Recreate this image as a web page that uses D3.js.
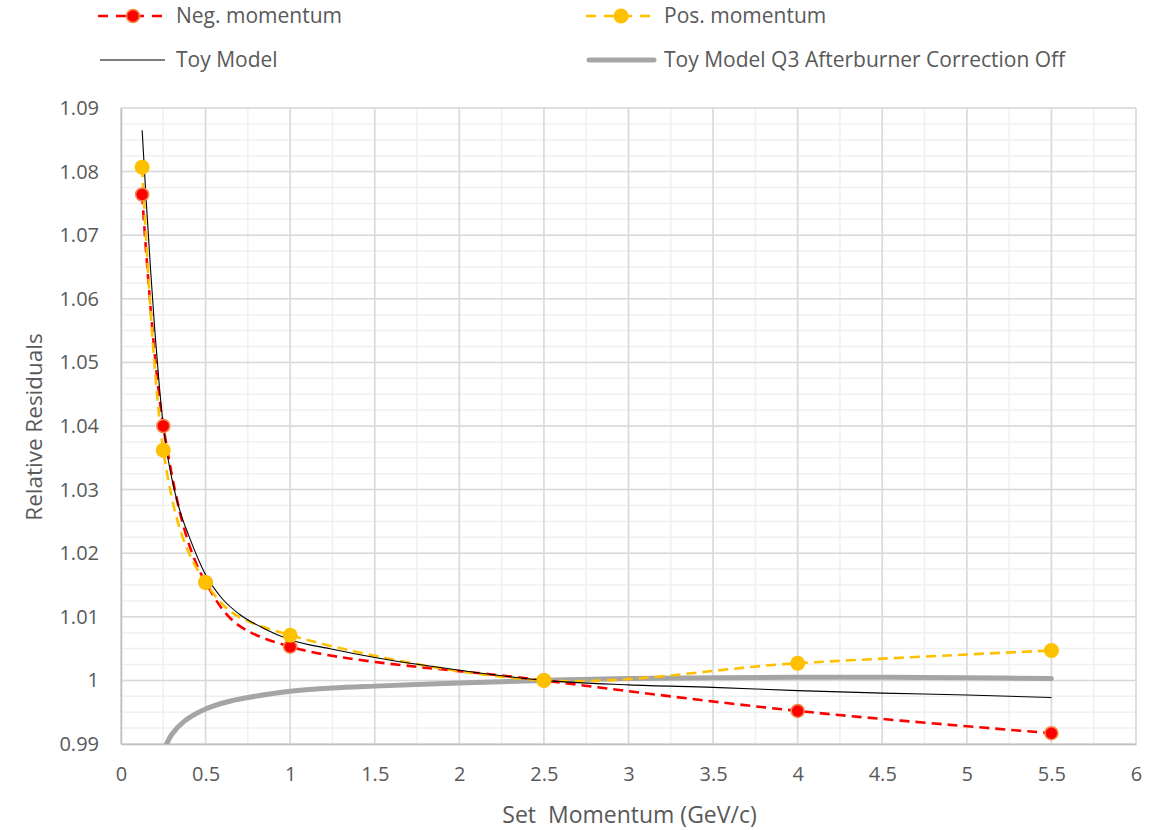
<!DOCTYPE html>
<html>
<head>
<meta charset="utf-8">
<script src="https://cdn.jsdelivr.net/npm/d3@7"></script>
<style>
  html, body { margin: 0; padding: 0; background: #ffffff; }
  svg { display: block; font-family: "Open Sans", "Liberation Sans", sans-serif; }
  text { fill: #595959; white-space: pre; }
</style>
</head>
<body>
<svg id="chart" width="1160" height="830"></svg>
<script>
// Measured momenta (GeV/c)
const momenta = [0.125, 0.25, 0.5, 1, 2.5, 4, 5.5];
// Relative residuals for each polarity
const negResiduals = [1.0764, 1.0400, 1.0154, 1.0053, 1.0000, 0.9952, 0.9917];
const posResiduals = [1.0807, 1.0362, 1.0154, 1.0071, 1.0000, 1.0027, 1.0047];

// Toy model curve
const toyX = [0.125, 0.15, 0.175, 0.2, 0.225, 0.25, 0.3, 0.35, 0.4, 0.5, 0.6, 0.7, 0.85, 1.0, 1.25, 1.5, 2.0, 2.5, 3.0, 3.5, 4.0, 4.5, 5.0, 5.5];
const toyY = [1.0865, 1.0750, 1.0645, 1.0550, 1.0468, 1.0400, 1.0318, 1.0265, 1.0228, 1.0166, 1.0128, 1.0104, 1.0081, 1.0064, 1.0049, 1.0036, 1.0016, 1.0000, 0.9993, 0.9989, 0.9984, 0.9980, 0.9977, 0.9973];

// Toy model with the Q3 afterburner correction switched off
const offX = [0.25, 0.3, 0.375, 0.5, 0.625, 0.75, 1.0, 1.25, 1.5, 2.0, 2.5, 3.0, 3.5, 4.0, 4.5, 5.0, 5.5];
const offY = [0.9888, 0.9915, 0.9936, 0.9955, 0.9966, 0.9973, 0.9983, 0.9988, 0.9991, 0.9996, 1.0000, 1.0003, 1.0004, 1.0005, 1.0005, 1.0004, 1.0003];

// Axis ticks
const xTicks = [0, 0.5, 1, 1.5, 2, 2.5, 3, 3.5, 4, 4.5, 5, 5.5, 6];
const yTicks = [0.99, 1, 1.01, 1.02, 1.03, 1.04, 1.05, 1.06, 1.07, 1.08, 1.09];
const xMinor = d3.range(0, 6.001, 0.25);
const yMinor = d3.range(0, 41).map(i => 0.99 + i * 0.0025);

const legendItems = [
  { label: "Neg. momentum", kind: "neg" },
  { label: "Pos. momentum", kind: "pos" },
  { label: "Toy Model", kind: "toy" },
  { label: "Toy Model Q3 Afterburner Correction Off", kind: "off" }
];

const svg = d3.select("#chart");
const plot = { left: 121, right: 1136, top: 108, bottom: 744 };

const x = d3.scaleLinear().domain([0, 6]).range([plot.left, plot.right]);
const y = d3.scaleLinear().domain([0.99, 1.09]).range([plot.bottom, plot.top]);

const RED = "#ff0000", YELLOW = "#ffc000", GREY = "#a5a5a5";

svg.append("defs").append("clipPath").attr("id", "plotClip")
  .append("rect")
  .attr("x", plot.left).attr("y", plot.top)
  .attr("width", plot.right - plot.left).attr("height", plot.bottom - plot.top);

// Gridlines
const grid = svg.append("g");
grid.selectAll("line.xmin").data(xMinor).join("line")
  .attr("x1", d => x(d)).attr("x2", d => x(d))
  .attr("y1", plot.top).attr("y2", plot.bottom)
  .attr("stroke", "#f0f0f0").attr("stroke-width", 1.5);
grid.selectAll("line.ymin").data(yMinor).join("line")
  .attr("y1", d => y(d)).attr("y2", d => y(d))
  .attr("x1", plot.left).attr("x2", plot.right)
  .attr("stroke", "#f0f0f0").attr("stroke-width", 1.5);
grid.selectAll("line.xmaj").data(xTicks).join("line")
  .attr("x1", d => x(d)).attr("x2", d => x(d))
  .attr("y1", plot.top).attr("y2", plot.bottom)
  .attr("stroke", "#d9d9d9").attr("stroke-width", 1.5);
grid.selectAll("line.ymaj").data(yTicks).join("line")
  .attr("y1", d => y(d)).attr("y2", d => y(d))
  .attr("x1", plot.left).attr("x2", plot.right)
  .attr("stroke", "#d9d9d9").attr("stroke-width", 1.5);

// Axes
const xAxis = d3.axisBottom(x).tickValues(xTicks).tickSize(0).tickPadding(23)
  .tickFormat(d => d3.format("")(d));
const yAxis = d3.axisLeft(y).tickValues(yTicks).tickSize(0).tickPadding(22)
  .tickFormat(d => String(+d.toFixed(2)));

const gx = svg.append("g").attr("transform", `translate(0,${plot.bottom})`).call(xAxis);
gx.select(".domain").attr("stroke", "#bfbfbf").attr("stroke-width", 1.5);
gx.selectAll("text").attr("font-size", 20).attr("fill", "#595959")
  .attr("font-family", "'Open Sans', sans-serif");

const gy = svg.append("g").attr("transform", `translate(${plot.left},0)`).call(yAxis);
gy.select(".domain").attr("stroke", "#bfbfbf").attr("stroke-width", 1.5);
gy.selectAll("text").attr("font-size", 20).attr("fill", "#595959")
  .attr("font-family", "'Open Sans', sans-serif");

// Axis titles
svg.append("text")
  .attr("x", (plot.left + plot.right) / 2 + 1).attr("y", 823)
  .attr("text-anchor", "middle").attr("font-size", 23)
  .text("Set  Momentum (GeV/c)");
svg.append("text")
  .attr("transform", `translate(42,${(plot.top + plot.bottom) / 2 + 1}) rotate(-90)`)
  .attr("text-anchor", "middle").attr("font-size", 22.5)
  .text("Relative Residuals");

// Series
const series = svg.append("g").attr("clip-path", "url(#plotClip)");
const smooth = d3.line().x(d => x(d[0])).y(d => y(d[1])).curve(d3.curveCardinal.tension(0));
const smoothModel = d3.line().x(d => x(d[0])).y(d => y(d[1])).curve(d3.curveMonotoneX);
const smoothOff = d3.line().x(d => x(d[0])).y(d => y(d[1])).curve(d3.curveCatmullRom.alpha(0.5));

const negPts = d3.zip(momenta, negResiduals);
const posPts = d3.zip(momenta, posResiduals);
const toyPts = d3.zip(toyX, toyY);
const offPts = d3.zip(offX, offY);

series.append("path").datum(offPts)
  .attr("d", smoothOff).attr("fill", "none")
  .attr("stroke", GREY).attr("stroke-width", 5).attr("stroke-linecap", "round");

series.append("path").datum(negPts)
  .attr("d", smooth).attr("fill", "none")
  .attr("stroke", RED).attr("stroke-width", 2.6).attr("stroke-dasharray", "10,6");
series.append("path").datum(posPts)
  .attr("d", smooth).attr("fill", "none")
  .attr("stroke", YELLOW).attr("stroke-width", 2.6).attr("stroke-dasharray", "10,6");

svg.append("g").selectAll("circle").data(negPts).join("circle")
  .attr("cx", d => x(d[0])).attr("cy", d => y(d[1])).attr("r", 6.5)
  .attr("fill", RED).attr("stroke", "#f08a4b").attr("stroke-width", 1.6);
svg.append("g").selectAll("circle").data(posPts).join("circle")
  .attr("cx", d => x(d[0])).attr("cy", d => y(d[1])).attr("r", 7.5)
  .attr("fill", YELLOW);

series.append("path").datum(toyPts)
  .attr("d", smoothModel).attr("fill", "none")
  .attr("stroke", "#000000").attr("stroke-width", 1.1);

// Legend
const legendPos = [
  { lx: 98, ly: 16 }, { lx: 586, ly: 16 },
  { lx: 98, ly: 60 }, { lx: 586, ly: 60 }
];
const legend = svg.append("g");
legendItems.forEach((item, i) => {
  const p = legendPos[i];
  const g = legend.append("g").attr("transform", `translate(${p.lx},${p.ly})`);
  if (item.kind === "neg" || item.kind === "pos") {
    const col = item.kind === "neg" ? RED : YELLOW;
    g.append("line").attr("x1", 0).attr("x2", 66).attr("y1", 0).attr("y2", 0)
      .attr("stroke", col).attr("stroke-width", 2.6).attr("stroke-dasharray", "10,8");
    const c = g.append("circle").attr("cx", 35).attr("cy", 0);
    if (item.kind === "neg") c.attr("r", 6.5).attr("fill", RED).attr("stroke", "#f08a4b").attr("stroke-width", 1.6);
    else c.attr("r", 7.5).attr("fill", YELLOW);
  } else if (item.kind === "toy") {
    g.append("line").attr("x1", 2).attr("x2", 67).attr("y1", 0).attr("y2", 0)
      .attr("stroke", "#000").attr("stroke-width", 1.1);
  } else {
    g.append("line").attr("x1", 3).attr("x2", 68).attr("y1", 0).attr("y2", 0)
      .attr("stroke", GREY).attr("stroke-width", 5).attr("stroke-linecap", "round");
  }
  g.append("text").attr("x", 78).attr("y", 0).attr("dy", "0.35em")
    .attr("font-size", 21).text(item.label);
});
</script>
</body>
</html>
